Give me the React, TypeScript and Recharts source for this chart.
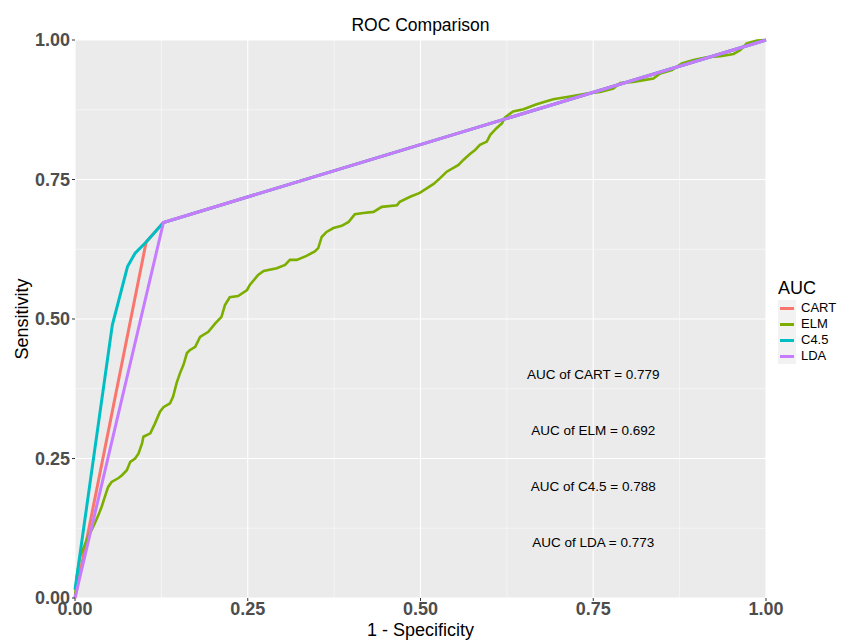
import React from 'react';
import { LineChart, Line, XAxis, YAxis, CartesianGrid, ReferenceLine, ReferenceDot, Label } from 'recharts';

const FONT = '"Liberation Sans", Arial, sans-serif';

const seriesNames = ['CART', 'ELM', 'C4.5', 'LDA'];
const seriesColors = ['#F8766D', '#7CAE00', '#00BFC4', '#C77CFF'];

const cartFpr = [0, 0.103, 0.128, 1];
const cartTpr = [0, 0.638, 0.673, 1];

const c45Fpr = [0, 0.054, 0.076, 0.087, 0.103, 0.128, 1];
const c45Tpr = [0.015, 0.489, 0.594, 0.618, 0.638, 0.673, 1];

const ldaFpr = [0, 0.128, 1];
const ldaTpr = [0, 0.673, 1];

const elmFpr = [0, 0.0025, 0.0072, 0.019, 0.0265, 0.034, 0.0387, 0.0434, 0.048, 0.053, 0.063, 0.068, 0.075, 0.08, 0.087, 0.092, 0.097, 0.099, 0.109, 0.1158, 0.123, 0.128, 0.1375, 0.142, 0.147, 0.152, 0.157, 0.162, 0.166, 0.174, 0.181, 0.193, 0.203, 0.212, 0.217, 0.224, 0.236, 0.249, 0.253, 0.265, 0.273, 0.292, 0.304, 0.311, 0.321, 0.335, 0.347, 0.352, 0.357, 0.364, 0.374, 0.386, 0.396, 0.405, 0.417, 0.432, 0.444, 0.466, 0.47, 0.485, 0.499, 0.509, 0.519, 0.528, 0.538, 0.555, 0.562, 0.572, 0.579, 0.586, 0.596, 0.601, 0.61, 0.618, 0.622, 0.634, 0.649, 0.668, 0.692, 0.712, 0.741, 0.76, 0.779, 0.789, 0.808, 0.837, 0.847, 0.864, 0.878, 0.895, 0.914, 0.934, 0.953, 0.963, 0.972, 0.987, 1];
const elmTpr = [0.002, 0.038, 0.074, 0.11, 0.128, 0.149, 0.164, 0.182, 0.199, 0.208, 0.215, 0.22, 0.229, 0.244, 0.25, 0.259, 0.277, 0.289, 0.295, 0.313, 0.334, 0.342, 0.349, 0.361, 0.385, 0.403, 0.418, 0.439, 0.444, 0.45, 0.468, 0.477, 0.492, 0.504, 0.525, 0.539, 0.541, 0.552, 0.561, 0.579, 0.586, 0.591, 0.597, 0.606, 0.606, 0.613, 0.621, 0.627, 0.647, 0.656, 0.663, 0.667, 0.674, 0.688, 0.69, 0.692, 0.701, 0.704, 0.71, 0.719, 0.726, 0.734, 0.742, 0.752, 0.764, 0.776, 0.785, 0.796, 0.803, 0.812, 0.818, 0.83, 0.842, 0.851, 0.861, 0.872, 0.876, 0.885, 0.894, 0.898, 0.904, 0.907, 0.913, 0.923, 0.925, 0.931, 0.94, 0.946, 0.958, 0.964, 0.969, 0.971, 0.975, 0.982, 0.994, 0.999, 1];

const majorTicks = [0, 0.25, 0.5, 0.75, 1];
const minorTicks = [0.125, 0.375, 0.625, 0.875];

const annotationTexts = ['AUC of CART = 0.779', 'AUC of ELM = 0.692', 'AUC of C4.5 = 0.788', 'AUC of LDA = 0.773'];
const annotationX = [0.75, 0.75, 0.75, 0.75];
const annotationY = [0.4, 0.3, 0.2, 0.1];

const toPts = (xs: number[], ys: number[]) => xs.map((x, i) => ({ x, y: ys[i] }));
const seriesData = [toPts(cartFpr, cartTpr), toPts(elmFpr, elmTpr), toPts(c45Fpr, c45Tpr), toPts(ldaFpr, ldaTpr)];

const W = 829;
const H = 632;
const M = { top: 32, right: 71, bottom: 0, left: 0 };
const YW = 67;
const XH = 42;
const panelLeft = M.left + YW;
const panelRight = W - M.right;
const panelTop = M.top;
const panelBottom = H - M.bottom - XH;

const tickStyle = { fill: '#4D4D4D', fontSize: 18, fontWeight: 'bold' as const, fontFamily: FONT };

const LegendBox = () => (
  <div style={{ position: 'absolute', left: 770, top: 269, width: 70, fontFamily: FONT, color: '#000' }}>
    <div style={{ fontSize: 18, lineHeight: '22px', height: 22, marginBottom: 1 }}>AUC</div>
    <div>
      {seriesNames.map((n, i) => (
        <div key={n} style={{ display: 'flex', alignItems: 'center', height: 16 }}>
          <div style={{ width: 18, height: 16, background: '#F2F2F2', position: 'relative', flex: '0 0 18px' }}>
            <div style={{ position: 'absolute', left: 2, right: 2, top: 7, height: 3, background: seriesColors[i] }} />
          </div>
          <span style={{ fontSize: 13, marginLeft: 5, lineHeight: '16px', whiteSpace: 'nowrap' }}>{n}</span>
        </div>
      ))}
    </div>
  </div>
);

export default function App() {
  return (
    <div style={{ position: 'relative', width: W, height: H, background: '#fff' }}>
      <div
        style={{
          position: 'absolute',
          left: panelLeft,
          width: panelRight - panelLeft,
          top: 7,
          textAlign: 'center',
          fontFamily: FONT,
          fontSize: 17.5,
          lineHeight: '20px',
          color: '#000',
          zIndex: 2,
        }}
      >
        ROC Comparison
      </div>
      <LineChart width={W} height={H} margin={M}>
        <CartesianGrid stroke="#FFFFFF" strokeWidth={1.1} fill="#EBEBEB" />
        {minorTicks.map((t) => (
          <ReferenceLine key={'h' + t} y={t} stroke="#FFFFFF" strokeWidth={0.5} />
        ))}
        {minorTicks.map((t) => (
          <ReferenceLine key={'v' + t} x={t} stroke="#FFFFFF" strokeWidth={0.5} />
        ))}
        <XAxis
          type="number"
          dataKey="x"
          domain={[0, 1]}
          ticks={majorTicks}
          tickFormatter={(v: number) => v.toFixed(2)}
          height={XH}
          axisLine={false}
          tickLine={{ stroke: '#333333' }}
          tickSize={3}
          tickMargin={1}
          tick={tickStyle}
          allowDuplicatedCategory={false}
        >
          <Label
            content={() => (
              <text x={(panelLeft + panelRight) / 2} y={622} textAnchor="middle" dominantBaseline="central" fontSize={18} fontFamily={FONT} fill="#000">
                1 - Specificity
              </text>
            )}
          />
        </XAxis>
        <YAxis
          type="number"
          dataKey="y"
          domain={[0, 1]}
          ticks={majorTicks}
          tickFormatter={(v: number) => v.toFixed(2)}
          width={YW}
          axisLine={false}
          tickLine={{ stroke: '#333333' }}
          tickSize={3}
          tickMargin={2}
          tick={tickStyle}
        >
          <Label
            content={() => (
              <text
                x={14}
                y={(panelTop + panelBottom) / 2}
                transform={`rotate(-90 14 ${(panelTop + panelBottom) / 2})`}
                textAnchor="middle"
                dominantBaseline="central"
                fontSize={18}
                fontFamily={FONT}
                fill="#000"
              >
                Sensitivity
              </text>
            )}
          />
        </YAxis>
        {seriesNames.map((n, i) => (
          <Line
            key={n}
            data={seriesData[i]}
            dataKey="y"
            name={n}
            type="linear"
            stroke={seriesColors[i]}
            strokeWidth={i === 1 ? 2.6 : 3}
            dot={false}
            activeDot={false}
            isAnimationActive={false}
          />
        ))}
        {annotationTexts.map((t, i) => (
          <ReferenceDot
            key={t}
            x={annotationX[i]}
            y={annotationY[i]}
            r={0}
            shape={(p: any) => (
              <text x={p.cx} y={p.cy} textAnchor="middle" dominantBaseline="central" fontSize={13.5} fontFamily={FONT} fill="#000">
                {t}
              </text>
            )}
          />
        ))}
      </LineChart>
      <LegendBox />
    </div>
  );
}
